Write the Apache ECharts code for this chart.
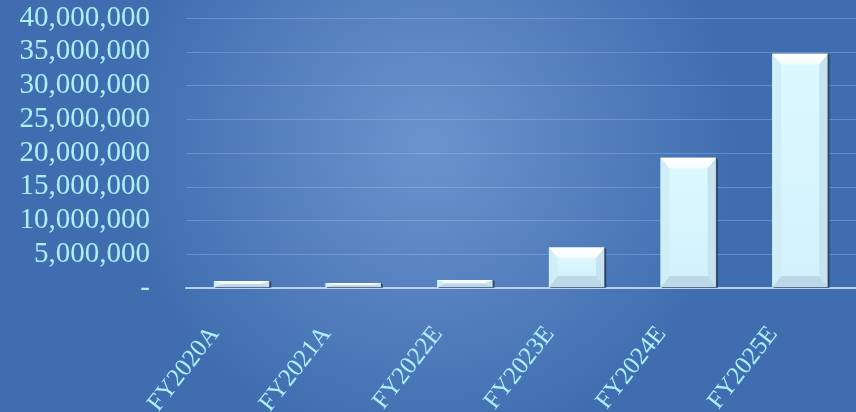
<!DOCTYPE html>
<html><head><meta charset="utf-8">
<script src="https://cdn.jsdelivr.net/npm/echarts@6/dist/echarts.min.js"></script>
<style>html,body{margin:0;padding:0;}#c{width:856px;height:412px;}</style>
</head><body><div id="c"></div>
<script>
var categories = ['FY2020A','FY2021A','FY2022E','FY2023E','FY2024E','FY2025E'];
var values = [1050000, 750000, 1180000, 6000000, 19300000, 34700000];
var yTicks = [0, 5000000, 10000000, 15000000, 20000000, 25000000, 30000000, 35000000, 40000000];

var chart = echarts.init(document.getElementById('c'));
function fmt(v){ if(v===0) return '-'; return String(v).replace(/\B(?=(\d{3})+(?!\d))/g, ','); }
chart.setOption({
  backgroundColor: {type:'radial', x:0.5, y:0.35, r:0.75, colorStops:[{offset:0,color:'#6b94ce'},{offset:1,color:'#3f6daf'}]},
  grid: {left:186, right:0, top:18, bottom:124, containLabel:false, outerBoundsMode:'none'},
  xAxis: {type:'category', data:categories,
    axisLine:{show:true, lineStyle:{color:'rgba(200,225,250,0.85)', width:2}},
    axisTick:{show:false},
    axisLabel:{rotate:52, margin:7, padding:[0,44,0,0], color:'#aef0ff', fontFamily:'Liberation Serif', fontSize:25, interval:0}},
  yAxis: {type:'value', min:yTicks[0], max:yTicks[yTicks.length-1], interval:5000000,
    axisLine:{show:false}, axisTick:{show:false},
    splitLine:{lineStyle:{color:'rgba(180,210,245,0.3)', width:1}},
    axisLabel:{margin:36, color:'#aef0ff', fontFamily:'Liberation Serif', fontSize:29, formatter:fmt}},
  series: [{type:'custom', data:values.map(function(v,i){return [i,v];}),
    renderItem:function(params, api){
      var top = api.coord([api.value(0), api.value(1)]);
      var base = api.coord([api.value(0), 0]);
      var w = api.size([1,0])[0]*0.5;
      var x0 = top[0]-w/2, x1 = top[0]+w/2, y0 = top[1], y1 = base[1]-1;
      var h = y1-y0;
      var b = Math.min(11, h/2), s = Math.min(9, w/2);
      return {type:'group', children:[
        {type:'rect', shape:{x:x0+1.5, y:y0+1, width:w, height:h}, style:{fill:'rgba(20,30,60,0.55)'}},
        {type:'rect', shape:{x:x0, y:y0, width:w, height:h}, style:{fill:'#d6f5fd'}},
        {type:'polygon', shape:{points:[[x0,y0],[x1,y0],[x1-s,y0+b],[x0+s,y0+b]]}, style:{fill:{type:'linear',x:0,y:0,x2:0,y2:1,colorStops:[{offset:0,color:'#ffffff'},{offset:1,color:'#f4fcff'}]}}},
        {type:'polygon', shape:{points:[[x0,y0],[x0+s,y0+b],[x0+s,y1-b],[x0,y1]]}, style:{fill:'#d0eef8'}},
        {type:'polygon', shape:{points:[[x1,y0],[x1-s,y0+b],[x1-s,y1-b],[x1,y1]]}, style:{fill:'#c6e4f0'}},
        {type:'polygon', shape:{points:[[x0,y1],[x0+s,y1-b],[x1-s,y1-b],[x1,y1]]}, style:{fill:'#bcd8e6'}},
        {type:'rect', shape:{x:x0+s, y:y0+b, width:Math.max(0,w-2*s), height:Math.max(0,h-2*b)}, style:{fill:{type:'linear',x:0,y:0,x2:0,y2:1,colorStops:[{offset:0,color:'#dbf8ff'},{offset:1,color:'#d3f1fb'}]}}},
        {type:'line', shape:{x1:x1, y1:y0, x2:x1, y2:y1}, style:{stroke:'rgba(30,40,60,0.8)', lineWidth:1}}
      ]};
    }
  }]
});
</script></body></html>
